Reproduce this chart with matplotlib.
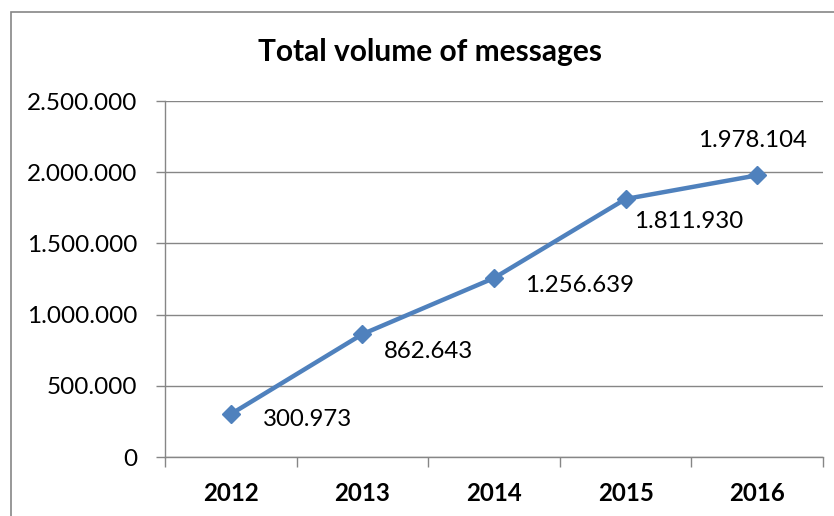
import matplotlib
matplotlib.use("Agg")
import matplotlib.pyplot as plt
from matplotlib.ticker import FuncFormatter, FixedLocator
from matplotlib.patches import Rectangle

years = ["2012", "2013", "2014", "2015", "2016"]
messages = [300973, 862643, 1256639, 1811930, 1978104]
y_ticks = [0, 500000, 1000000, 1500000, 2000000, 2500000]

# label offsets in pixels (dx, dy) relative to each point, and horizontal alignment
label_offsets = [(32, -5), (21, -17), (31, -7), (8, -23), (-5, 35)]
label_ha = ["left", "left", "left", "left", "center"]

plt.rcParams['font.family'] = ['Lato', 'DejaVu Sans']

W, H = 834, 516
fig = plt.figure(figsize=(W / 100, H / 100), dpi=100)
fig.patch.set_facecolor("white")

# outer chart border
fig.patches.append(Rectangle((11 / W, -0.1), 1.2, (H - 12) / H + 0.1,
                             transform=fig.transFigure, fill=False,
                             edgecolor="#868686", linewidth=1.2))

left, right = 165 / W, 823 / W
bottom, top = (H - 457) / H, (H - 101) / H
ax = fig.add_axes([left, bottom, right - left, top - bottom])

x = list(range(len(years)))
ax.plot(x, messages, color="#4F81BD", linewidth=3.2, marker="D",
        markersize=9, markeredgecolor="#4F81BD", markerfacecolor="#4F81BD",
        zorder=3, clip_on=False)

def fmt(v, pos=None):
    return f"{int(round(v)):,}".replace(",", ".")

for xi, v, (dx, dy), ha in zip(x, messages, label_offsets, label_ha):
    ax.annotate(fmt(v), (xi, v), xytext=(dx * 0.72, dy * 0.72),
                textcoords="offset points", ha=ha, va="center",
                fontsize=17.3, color="black")

ax.set_xlim(-0.5, len(years) - 0.5)
ax.set_ylim(0, 2500000)
ax.yaxis.set_major_locator(FixedLocator(y_ticks))
ax.yaxis.set_major_formatter(FuncFormatter(fmt))
ax.grid(axis="y", color="#868686", linewidth=1)
ax.set_axisbelow(True)

ax.set_xticks(x)
ax.set_xticklabels(years, fontsize=17.3, fontweight="bold")
ax.set_xticks([i - 0.5 for i in range(len(years) + 1)], minor=True)
ax.tick_params(axis="x", which="major", length=0, pad=18)
ax.tick_params(axis="x", which="minor", length=7, width=1, color="#868686",
               direction="out")
ax.tick_params(axis="y", length=6.5, width=1, color="#868686", pad=13.5,
               labelsize=17.5)

for s in ["top", "right"]:
    ax.spines[s].set_visible(False)
for s in ["left", "bottom"]:
    ax.spines[s].set_color("#868686")
    ax.spines[s].set_linewidth(1)

fig.text(430 / W, (H - 52) / H, "Total volume of messages", ha="center",
         va="center", fontsize=21.5, fontweight="bold", color="black")

fig.savefig("out.png", dpi=100)
